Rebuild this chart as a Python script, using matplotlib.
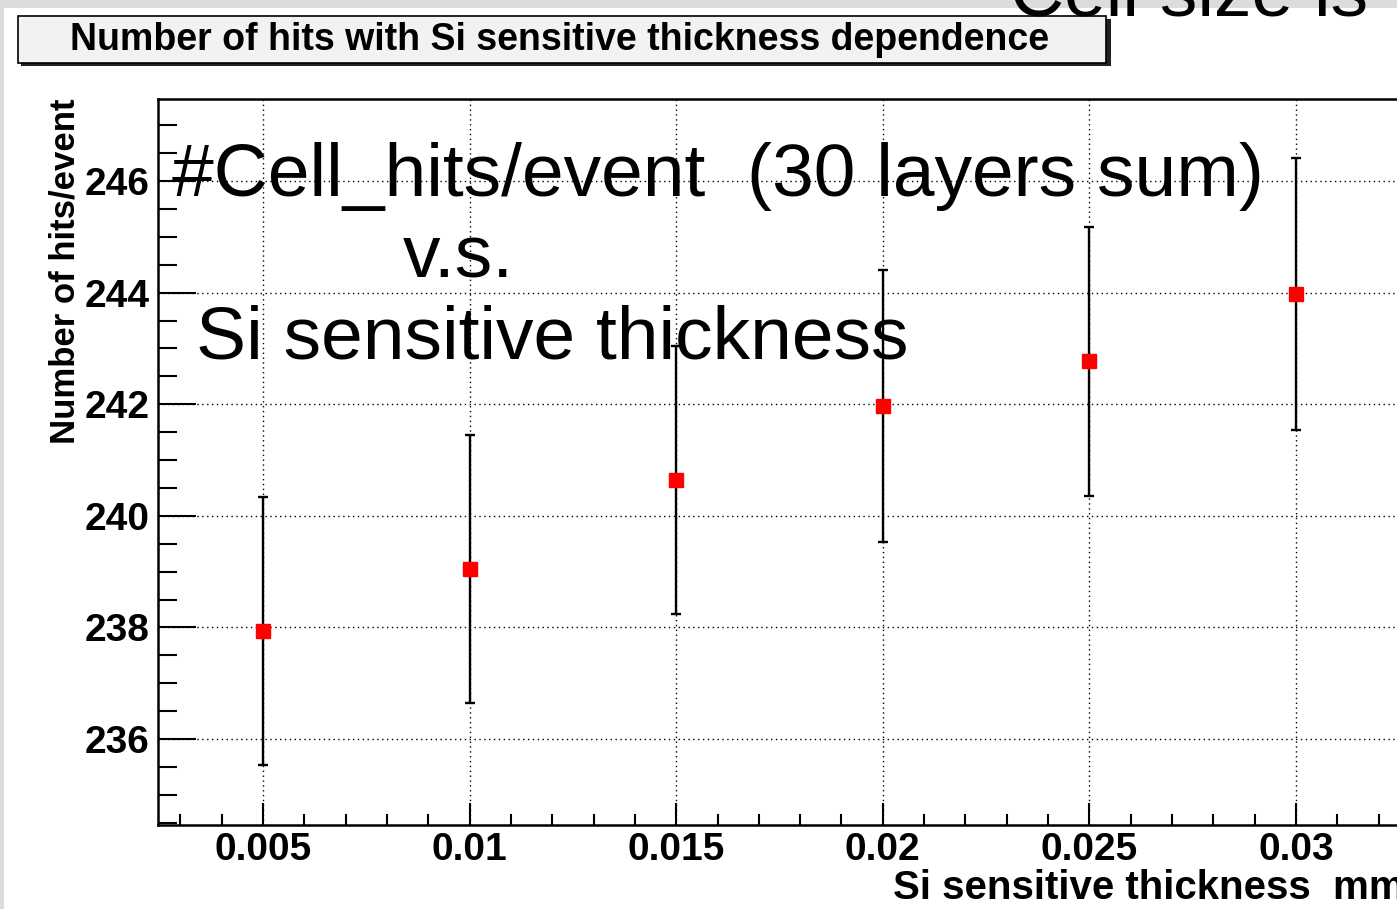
import matplotlib
matplotlib.use("Agg")
import matplotlib.pyplot as plt
from matplotlib.patches import Rectangle
from matplotlib.ticker import MultipleLocator, FixedLocator

# data
thickness = [0.005, 0.010, 0.015, 0.020, 0.025, 0.030]
hits = [237.94, 239.05, 240.64, 241.97, 242.77, 243.97]
hits_err = [2.40, 2.40, 2.40, 2.43, 2.41, 2.44]
ytick_vals = [236, 238, 240, 242, 244, 246]
xtick_vals = [0.005, 0.010, 0.015, 0.020, 0.025, 0.030]
xtick_labels = ["0.005", "0.01", "0.015", "0.02", "0.025", "0.03"]

W, H = 1397, 909
plt.rcParams['font.family'] = ['Liberation Sans', 'DejaVu Sans']

fig = plt.figure(figsize=(W / 100, H / 100), dpi=100)
fig.patch.set_facecolor('white')

# grey frame strips of the screenshot
fig.patches.append(Rectangle((0, 1 - 8 / H), 1, 8 / H, transform=fig.transFigure,
                             facecolor='#dcdcdc', edgecolor='none', zorder=0))
fig.patches.append(Rectangle((0, 0), 4 / W, 1, transform=fig.transFigure,
                             facecolor='#dcdcdc', edgecolor='none', zorder=0))

# axes: left 158px, bottom 825px, top 99px, right runs off the picture
x0, x1 = 0.002459, 0.0335
y0, y1 = 234.46, 247.47
ax_left = 158 / W
ax_right = (263 + (x1 - 0.005) / 0.005 * 206.6) / W
ax = fig.add_axes([ax_left, (H - 825) / H, ax_right - ax_left, (825 - 99) / H])
ax.set_xlim(x0, x1)
ax.set_ylim(y0, y1)

ax.errorbar(thickness, hits, yerr=hits_err, fmt='s', color='black', ecolor='black',
            elinewidth=1.7, capsize=3.5, capthick=1.7, markersize=10,
            markerfacecolor='red', markeredgecolor='red', zorder=5)

ax.xaxis.set_major_locator(FixedLocator(xtick_vals))
ax.set_xticklabels(xtick_labels)
ax.xaxis.set_minor_locator(MultipleLocator(0.001))
ax.yaxis.set_major_locator(FixedLocator(ytick_vals))
ax.yaxis.set_minor_locator(MultipleLocator(0.5))

ax.grid(True, which='major', color='black', linestyle=(0, (1, 2.5)), linewidth=1)
ax.tick_params(axis='both', which='both', direction='in', top=False, right=False,
               width=1.5, labelsize=28)
ax.tick_params(axis='y', which='major', length=27, pad=6)
ax.tick_params(axis='y', which='minor', length=14)
ax.tick_params(axis='x', which='major', length=16, pad=5)
ax.tick_params(axis='x', which='minor', length=8)
for lab in ax.get_xticklabels() + ax.get_yticklabels():
    lab.set_fontweight('bold')
for s in ax.spines.values():
    s.set_linewidth(1.8)

# axis titles
fig.text(65 / W, 1 - 99 / H, "Number of hits/event", rotation=90, ha='center', va='top',
         fontsize=25, fontweight='bold')
fig.text(893 / W, 1 - 888 / H, "Si sensitive thickness  mm", ha='left', va='center',
         fontsize=29, fontweight='bold')

# title box with shadow
fig.patches.append(Rectangle((21 / W, 1 - 66 / H), 1090 / W, 47 / H, transform=fig.transFigure,
                             facecolor='#222222', edgecolor='none', zorder=2))
fig.patches.append(Rectangle((18 / W, 1 - 63 / H), 1088 / W, 47 / H, transform=fig.transFigure,
                             facecolor='#f2f2f2', edgecolor='black', linewidth=1.2, zorder=3))
fig.text(560 / W, 1 - 40 / H, "Number of hits with Si sensitive thickness dependence",
         ha='center', va='center', fontsize=27, fontweight='bold', zorder=4)

# overlaid annotation
fig.text(172 / W, 1 - 196 / H, "#Cell_hits/event  (30 layers sum)", ha='left',
         va='baseline', fontsize=54, zorder=6)
fig.text(403 / W, 1 - 277 / H, "v.s.", ha='left', va='baseline', fontsize=54, zorder=6)
fig.text(196 / W, 1 - 359 / H, "Si sensitive thickness", ha='left', va='baseline',
         fontsize=54, zorder=6)
fig.text(1010 / W, 1 - 15 / H, "Cell size is", ha='left', va='baseline', fontsize=54, zorder=6)

fig.savefig("out.png", dpi=100)
